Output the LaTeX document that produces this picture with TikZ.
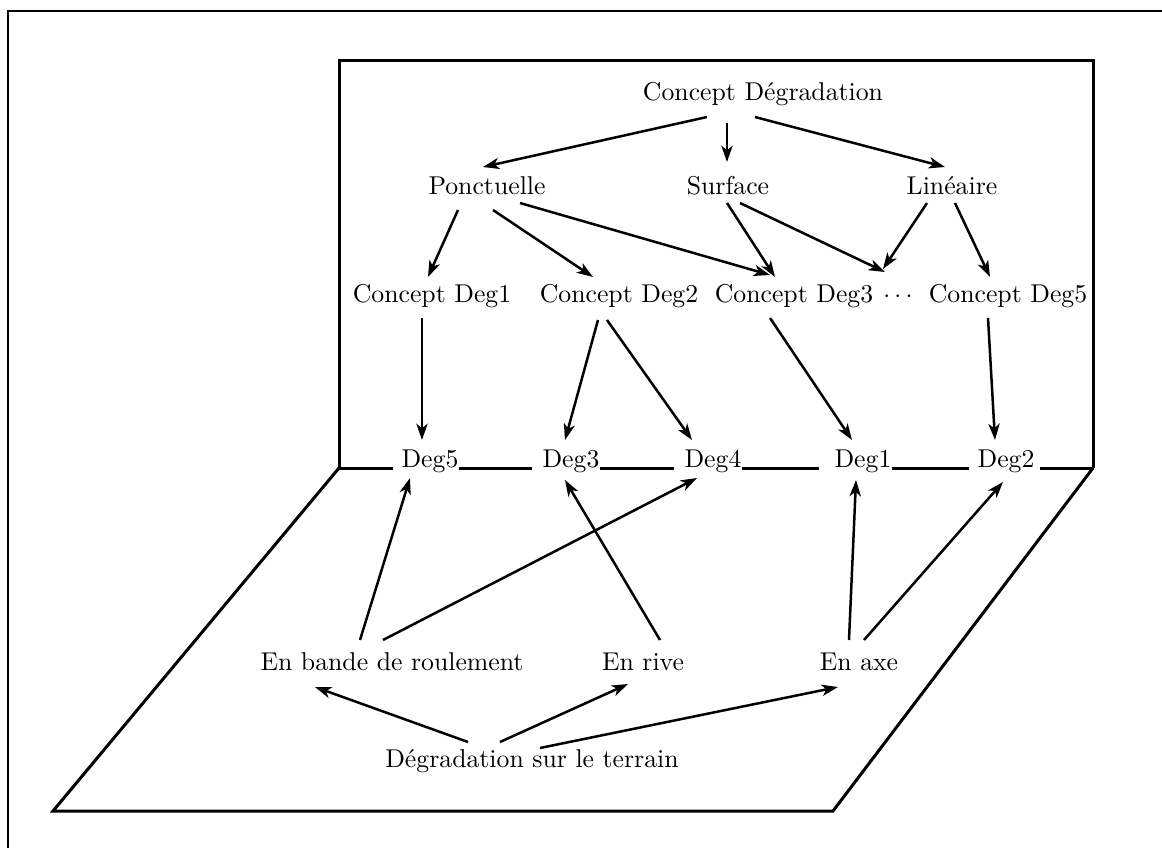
\documentclass[tikz,border=0pt]{standalone}
\usetikzlibrary{arrows.meta,calc}
\begin{document}
\begin{tikzpicture}[x=0.4pt,y=-0.4pt,
  lbl/.style={anchor=base,inner sep=0pt,font=\fontsize{10.3}{12}\selectfont},
  arr/.style={line width=1pt,-{Stealth[length=6.5pt,width=4.5pt,inset=1.8pt]}},
  plane/.style={line width=1.2pt,line join=miter},
  frame/.style={line width=0.8pt}]
\useasboundingbox (0,0) rectangle (1162,848);
% outer frame
\draw[frame] (8,848) -- (8,11) -- (1162,11);
% vertical plane
\draw[plane] (339,468) -- (339,60) -- (1093,60) -- (1093,468);
% floor
\draw[plane] (339,468) -- (53,811) -- (833,811) -- (1093,468);
% nodes
\node[lbl] (cd) at (763,100) {Concept Dégradation};
\node[lbl] (po) at (487,194) {Ponctuelle};
\node[lbl] (su) at (728,194) {Surface};
\node[lbl] (li) at (952,194) {Linéaire};
\node[lbl] (c1) at (432,302) {Concept Deg1};
\node[lbl] (c2) at (619,302) {Concept Deg2};
\node[lbl] (c3) at (794,302) {Concept Deg3};
\node[lbl] (dots) at (898,302) {$\cdots$};
\node[lbl] (c5) at (1008,302) {Concept Deg5};
\node[lbl] (d5) at (430,467) {Deg5};
\node[lbl] (d3) at (571,467) {Deg3};
\node[lbl] (d4) at (713,467) {Deg4};
\node[lbl] (d1) at (863,467) {Deg1};
\node[lbl] (d2) at (1006,467) {Deg2};
\node[lbl] (eb) at (392,670) {En bande de roulement};
\node[lbl] (er) at (643,670) {En rive};
\node[lbl] (ea) at (859,670) {En axe};
\node[lbl] (dst) at (532,767) {Dégradation sur le terrain};
% line segments along the fold
\draw[plane] (339,468) -- ($(d5.base west)+(-8,1)$);
\draw[plane] ($(d5.base east)+(0,1)$) -- ($(d3.base west)+(-10,1)$);
\draw[plane] ($(d3.base east)+(0,1)$) -- ($(d4.base west)+(-10,1)$);
\draw[plane] ($(d4.base east)+(0,1)$) -- ($(d1.base west)+(-15,1)$);
\draw[plane] ($(d1.base east)+(0,1)$) -- ($(d2.base west)+(-8,1)$);
\draw[plane] ($(d2.base east)+(5,1)$) -- (1093,468);
% arrows, upper plane
\draw[arr] ($(cd.base)+(-56,17)$) -- ($(po.base)+(-4,-27)$);
\draw[arr] ($(cd.base)+(-36,23)$) -- ($(su.base)+(-1,-32)$);
\draw[arr] ($(cd.base)+(-8,17)$) -- ($(li.base)+(-7,-27)$);
\draw[arr] ($(po.base)+(-29,16)$) -- ($(c1.base)+(-4,-25)$);
\draw[arr] ($(po.base)+(6,16)$) -- ($(c2.base)+(-26,-25)$);
\draw[arr] ($(po.base)+(33,9)$) -- ($(c3.base)+(-24,-27)$);
\draw[arr] ($(su.base)+(-1,9)$) -- ($(c3.base)+(-19,-25)$);
\draw[arr] ($(su.base)+(12,9)$) -- ($(dots.base)+(-13,-30)$);
\draw[arr] ($(li.base)+(-25,9)$) -- ($(dots.base)+(-15,-33)$);
\draw[arr] ($(li.base)+(3,9)$) -- ($(c5.base)+(-18,-25)$);
\draw[arr] ($(c1.base)+(-10,16)$) -- ($(d5.base)+(-8,-27)$);
\draw[arr] ($(c2.base)+(-21,18)$) -- ($(d3.base)+(-6,-27)$);
\draw[arr] ($(c2.base)+(-12,18)$) -- ($(d4.base)+(-21,-27)$);
\draw[arr] ($(c3.base)+(-24,16)$) -- ($(d1.base)+(-11,-27)$);
\draw[arr] ($(c5.base)+(-20,16)$) -- ($(d2.base)+(-11,-27)$);
% arrows, floor
\draw[arr] ($(eb.base)+(-32,-30)$) -- ($(d5.base)+(-20,11)$);
\draw[arr] ($(eb.base)+(-9,-30)$) -- ($(d4.base)+(-16,11)$);
\draw[arr] ($(er.base)+(17,-30)$) -- ($(d3.base)+(-6,13)$);
\draw[arr] ($(ea.base)+(-10,-30)$) -- ($(d1.base)+(-7,13)$);
\draw[arr] ($(ea.base)+(5,-30)$) -- ($(d2.base)+(-3,15)$);
\draw[arr] ($(dst.base)+(-64,-25)$) -- ($(eb.base)+(-77,17)$);
\draw[arr] ($(dst.base)+(-32,-25)$) -- ($(er.base)+(-15,14)$);
\draw[arr] ($(dst.base)+(8,-19)$) -- ($(ea.base)+(-21,17)$);
\end{tikzpicture}
\end{document}
